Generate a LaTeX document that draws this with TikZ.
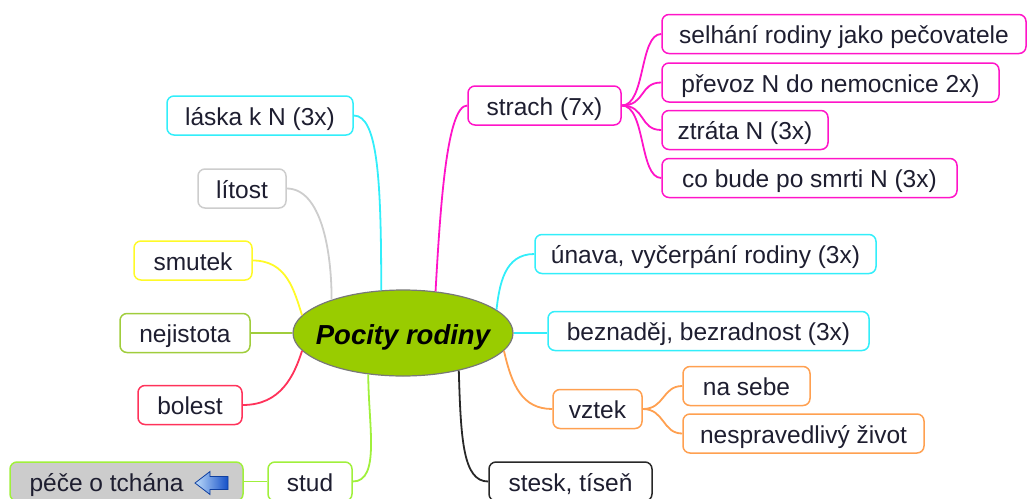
\documentclass[tikz,border=0pt]{standalone}
\usepackage{fontspec}
\setmainfont{Liberation Sans}
\usetikzlibrary{shapes.geometric}
\definecolor{txt}{RGB}{30,30,48}
\definecolor{cyanb}{RGB}{50,238,250}
\definecolor{grayb}{RGB}{205,205,205}
\definecolor{yellowb}{RGB}{255,250,40}
\definecolor{oliveb}{RGB}{160,205,60}
\definecolor{redb}{RGB}{255,50,90}
\definecolor{limeb}{RGB}{160,240,60}
\definecolor{magb}{RGB}{255,20,200}
\definecolor{orangeb}{RGB}{255,160,80}
\definecolor{darkb}{RGB}{40,40,40}
\definecolor{ellfill}{RGB}{153,204,0}
\definecolor{ellline}{RGB}{120,120,120}
\definecolor{pecefill}{RGB}{204,204,204}
\definecolor{arrlight}{RGB}{190,220,250}
\definecolor{arrdark}{RGB}{20,80,200}
\begin{document}
\begin{tikzpicture}[x=1pt,y=-1pt,
  box/.style={draw=#1, rounded corners=7pt, line width=1.5pt, fill=white, inner sep=0pt,
    text=txt, font=\fontsize{24.5}{28}\selectfont, minimum height=39pt,
    text height=19.5pt, text depth=0pt},
  link/.style={draw=#1, line width=1.8pt},
  central/.style={ellipse, draw=ellline, fill=ellfill, line width=1.2pt, minimum width=220pt,
    minimum height=86pt, inner sep=0pt},
  centraltext/.style={inner sep=0pt, text=black, text height=23pt, text depth=0pt,
    font=\fontsize{27.5}{32}\selectfont\bfseries\itshape},
  plain/.style={inner sep=0pt, text=txt, font=\fontsize{24.5}{28}\selectfont,
    text height=19.5pt, text depth=0pt},
]
\useasboundingbox (0,0) rectangle (1028,498);

% central
\node[central] (c) at (403,333) {};
\node[centraltext] (ct) at (c.center) {Pocity rodiny};

% left side
\node[box=cyanb, minimum width=186pt] (laska) at (260,115.5) {láska k N (3x)};
\node[box=grayb, minimum width=88pt] (litost) at (242,188.5) {lítost};
\node[box=yellowb, minimum width=118pt] (smutek) at (193,260.5) {smutek};
\node[box=oliveb, minimum width=130pt] (nejistota) at (185,333) {nejistota};
\node[box=redb, minimum width=104pt] (bolest) at (190,405) {bolest};
\node[box=limeb, minimum width=84pt] (stud) at (310,481.5) {stud};
\node[box=limeb, fill=pecefill, minimum width=233pt] (pece) at (126.5,481.5) {};
\node[plain] (pecet) at (106.5,481.5) {péče o tchána};
\draw[line width=0.8pt, draw=arrdark!80!black, left color=arrlight, right color=arrdark]
  (195,483) -- (210,471.5) -- (210,476.5) -- (228,476.5) -- (228,489.5) -- (210,489.5)
  -- (210,494.5) -- cycle;

% right side
\node[box=magb, minimum width=153pt] (strach) at (544.5,105.5) {strach (7x)};
\node[box=magb, minimum width=364pt] (selh) at (844,34) {selhání rodiny jako pečovatele};
\node[box=magb, minimum width=337pt] (prevoz) at (830.5,82.5) {převoz N do nemocnice 2x)};
\node[box=magb, minimum width=166pt] (ztrata) at (745,130) {ztráta N (3x)};
\node[box=magb, minimum width=295pt] (cobude) at (809.5,178) {co bude po smrti N (3x)};
\node[box=cyanb, minimum width=341pt] (unava) at (705.5,254) {únava, vyčerpání rodiny (3x)};
\node[box=cyanb, minimum width=321pt] (bez) at (708.5,331) {beznaděj, bezradnost (3x)};
\node[box=orangeb, minimum width=89pt] (vztek) at (597.5,409) {vztek};
\node[box=orangeb, minimum width=127pt] (nasebe) at (746.5,386) {na sebe};
\node[box=orangeb, minimum width=241pt] (nesp) at (803.5,433.5) {nespravedlivý život};
\node[box=darkb, minimum width=163pt] (stesk) at (570.5,481.5) {stesk, tíseň};

% connectors
\draw[link=cyanb] (laska.east) .. controls +(24,0) and +(0,-110) .. (c.117);
\draw[link=grayb] (litost.east) .. controls +(34,0) and +(0,-50) .. (c.155);
\draw[link=yellowb] (smutek.east) .. controls +(34,0) and +(-8,-25) .. (c.170);
\draw[link=oliveb] (nejistota.east) -- (c.west);
\draw[link=redb] (bolest.east) .. controls +(38,0) and +(-8,25) .. (c.190);
\draw[link=limeb] (stud.east) .. controls +(28,0) and +(0,50) .. (c.230);
\draw[link=limeb] (pece.east) -- (stud.west);

\draw[link=magb] (strach.west) .. controls +(-20,0) and +(5,-90) .. (c.52);
\draw[link=magb] (strach.east) .. controls +(24,0) and +(-22,0) .. (selh.west);
\draw[link=magb] (strach.east) .. controls +(24,0) and +(-22,0) .. (prevoz.west);
\draw[link=magb] (strach.east) .. controls +(24,0) and +(-22,0) .. (ztrata.west);
\draw[link=magb] (strach.east) .. controls +(24,0) and +(-22,0) .. (cobude.west);

\draw[link=cyanb] (unava.west) .. controls +(-30,0) and +(3,-25) .. (c.14);
\draw[link=cyanb] (c.east) -- (c.east -| bez.west);
\draw[link=orangeb] (c.-10) .. controls +(8,35) and +(-30,0) .. (vztek.west);
\draw[link=orangeb] (vztek.east) .. controls +(22,0) and +(-20,0) .. (nasebe.west);
\draw[link=orangeb] (vztek.east) .. controls +(22,0) and +(-20,0) .. (nesp.west);
\draw[link=darkb] (c.-34) .. controls +(2,70) and +(-25,0) .. (stesk.west);
\end{tikzpicture}
\end{document}
